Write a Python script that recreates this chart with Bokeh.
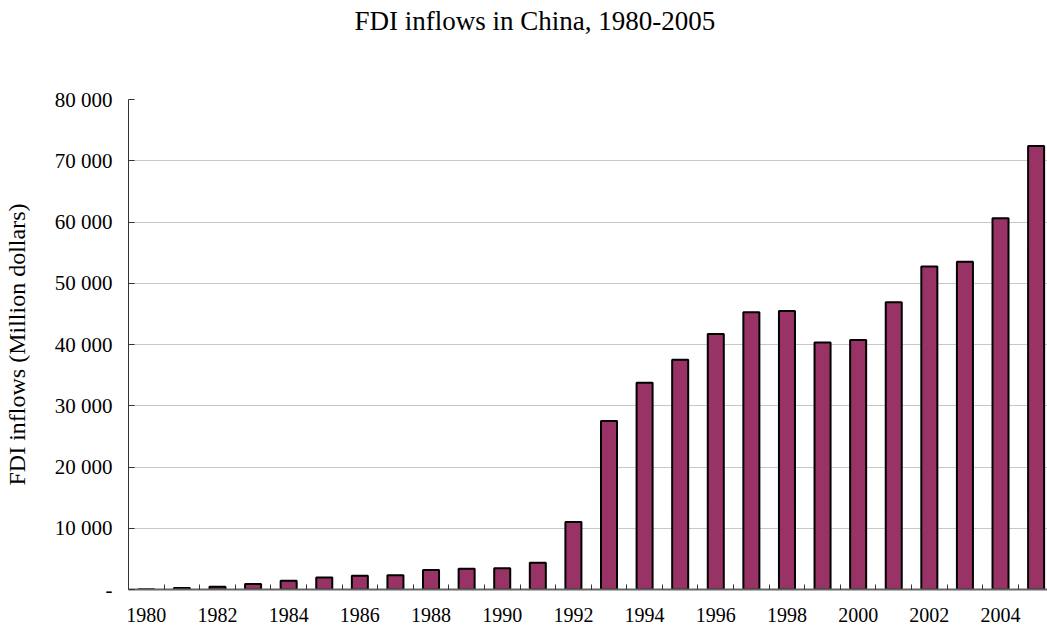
from bokeh.plotting import figure
from bokeh.models import FixedTicker, Range1d, Title
from bokeh.embed import file_html
from bokeh.resources import INLINE

years = list(range(1980, 2006))
fdi = [57, 265, 430, 916, 1419, 1956, 2244, 2314, 3194, 3393, 3487, 4366, 11008,
       27515, 33767, 37521, 41726, 45257, 45463, 40319, 40715, 46878, 52743,
       53505, 60630, 72406]
y_ticks = [0, 10000, 20000, 30000, 40000, 50000, 60000, 70000, 80000]
y_tick_labels = ["-", "10 000", "20 000", "30 000", "40 000", "50 000",
                 "60 000", "70 000", "80 000"]
x_label_years = list(range(1980, 2005, 2))
title_text = "FDI inflows in China, 1980-2005"

FONT = "Liberation Serif"

p = figure(width=1047, height=631, output_backend="svg", toolbar_location=None,
           x_range=Range1d(1979.5, 2005.32), y_range=Range1d(0, 80000),
           min_border_left=124, min_border_right=0, min_border_top=0,
           min_border_bottom=42)
p.outline_line_color = None

p.vbar(x=years, top=fdi, width=0.45, fill_color="#993366",
       line_color="black", line_width=2)

spacer = Title(text=" ", text_font_size="10px", standoff=48)
p.add_layout(spacer, "above")
t = Title(text=title_text, align="left",
          text_font=FONT, text_font_size="27px", text_font_style="normal",
          text_color="black", offset=226, standoff=6)
p.add_layout(t, "above")

# x axis
p.xaxis.ticker = FixedTicker(ticks=x_label_years,
                             minor_ticks=[y + 0.5 for y in years])
p.xaxis.major_tick_in = 0
p.xaxis.major_tick_out = 0
p.xaxis.minor_tick_in = 5
p.xaxis.minor_tick_out = 0
p.xaxis.minor_tick_line_color = "#333333"
p.xaxis.axis_line_color = "#666666"
p.xaxis.axis_line_width = 2
p.xaxis.major_label_standoff = 18
p.xaxis.major_label_text_font = FONT
p.xaxis.major_label_text_font_size = "20px"
p.xaxis.major_label_text_color = "black"

# y axis
p.yaxis.ticker = FixedTicker(ticks=y_ticks)
p.yaxis.major_label_overrides = {t_: l for t_, l in zip(y_ticks, y_tick_labels)}
p.yaxis.major_tick_in = 6
p.yaxis.major_tick_out = 0
p.yaxis.minor_tick_in = 0
p.yaxis.minor_tick_out = 0
p.yaxis.axis_line_color = "#333333"
p.yaxis.axis_line_width = 1
p.yaxis.major_tick_line_color = "#333333"
p.yaxis.major_label_standoff = 16
p.yaxis.major_label_text_font = FONT
p.yaxis.major_label_text_font_size = "21px"
p.yaxis.major_label_text_color = "black"
p.yaxis.axis_label = "FDI inflows (Million dollars)"
p.yaxis.axis_label_text_font = FONT
p.yaxis.axis_label_text_font_size = "24px"
p.yaxis.axis_label_text_font_style = "normal"
p.yaxis.axis_label_text_color = "black"
p.yaxis.axis_label_standoff = 22

p.xgrid.grid_line_color = None
p.ygrid.grid_line_color = "#c8c8c8"
p.ygrid.grid_line_width = 1

open("out.html", "w").write(file_html(p, INLINE))
